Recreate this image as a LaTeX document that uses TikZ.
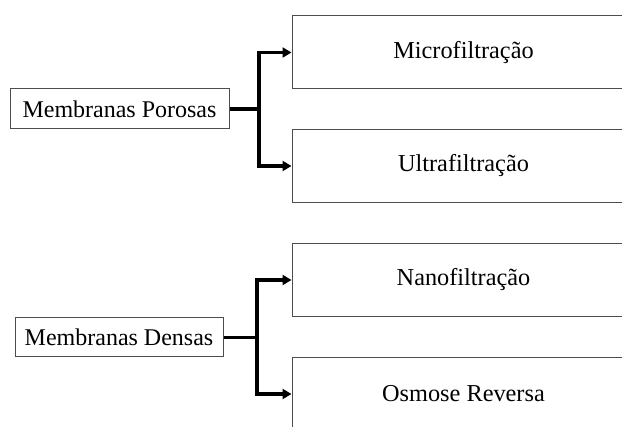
\documentclass[tikz,border=0pt]{standalone}
\usepackage{fontspec}
\setmainfont{Liberation Serif}
\usetikzlibrary{arrows.meta}
\tikzset{
  srcbox/.style={draw=black!70, line width=1pt, inner sep=0pt, font=\fontsize{24}{28}\selectfont},
  tgtbox/.style={draw=black!70, line width=1pt, inner sep=0pt, minimum width=342pt, minimum height=73pt, anchor=west, font=\fontsize{24.3}{28}\selectfont},
  conn/.style={line width=3.5pt, black},
  arr/.style={conn, -{Triangle[length=9pt,width=10pt]}, shorten >=0.5pt}
}
\begin{document}
\begin{tikzpicture}[x=1pt,y=-1pt]
\useasboundingbox (0,0) rectangle (622,427);
\clip (0,0) rectangle (622,427);
\fill[white] (0,0) rectangle (622,427);
% top group
\node[srcbox, minimum width=219pt, minimum height=40pt] (P) at (119.5,109) {Membranas Porosas};
\node[tgtbox] (mf) at (292,52.5) {Microfiltração};
\node[tgtbox] (uf) at (292,166) {Ultrafiltração};
\coordinate (jp) at (259,109);
\draw[conn] (P.east) -- (jp);
\draw[arr] ([yshift=-1.75pt]jp) |- (mf.west);
\draw[arr] ([yshift=1.75pt]jp) |- (uf.west);
% bottom group
\node[srcbox, minimum width=208pt, minimum height=39pt] (D) at (119,337.5) {Membranas Densas};
\node[tgtbox] (nf) at (292,280) {Nanofiltração};
\node[tgtbox] (os) at (292,394) {Osmose Reversa};
\coordinate (jd) at (257,337.5);
\draw[conn] (D.east) -- (jd);
\draw[arr] ([yshift=-1.75pt]jd) |- (nf.west);
\draw[arr] ([yshift=1.75pt]jd) |- (os.west);
\end{tikzpicture}
\end{document}
